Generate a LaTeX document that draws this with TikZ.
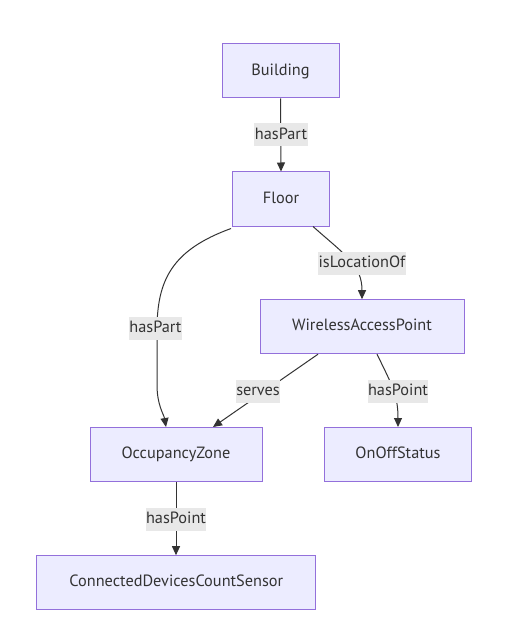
\documentclass[tikz,border=0pt]{standalone}
\usepackage{fontspec}
\setmainfont{PT Sans}
\usetikzlibrary{arrows.meta}
\definecolor{nodefill}{HTML}{ECECFF}
\definecolor{nodeborder}{HTML}{9370DB}
\definecolor{edgecol}{HTML}{333333}
\definecolor{labelbg}{HTML}{E8E8E8}
\begin{document}
\begin{tikzpicture}[x=1pt,y=-1pt,
  box/.style={draw=nodeborder, fill=nodefill, line width=1pt, minimum height=54pt, text=edgecol, font=\fontsize{16.3}{19}\selectfont, inner sep=0pt, text height=11.5pt, text depth=3pt},
  lbl/.style={fill=labelbg, text=edgecol, font=\fontsize{16.3}{19}\selectfont, inner xsep=0.5pt, inner ysep=0pt, minimum height=23pt, text height=11.5pt, text depth=3pt},
  edge/.style={draw=edgecol, line width=1pt, -{Triangle[length=9pt,width=8pt]}}]
\useasboundingbox[fill=white] (0,0) rectangle (530,639);
\node[box, minimum width=117pt] (building) at (280.5,71) {Building};
\node[box, minimum width=97pt] (floor) at (281,199) {Floor};
\node[box, minimum width=204pt] (wap) at (362,326.7) {WirelessAccessPoint};
\node[box, minimum width=172pt] (oz) at (176,454.5) {OccupancyZone};
\node[box, minimum width=147pt] (onoff) at (398,454.5) {OnOffStatus};
\node[box, minimum width=279pt] (cdcs) at (176.3,582.7) {ConnectedDevicesCountSensor};

\draw[edge] (building.south) -- (floor.north);
\draw[edge] ([xshift=-1pt,yshift=-2pt]floor.south west) .. controls (172,250) and (157,280) .. (157,330) -- (157,385) .. controls (157,405) and (164,415) .. ([xshift=-10pt]oz.north);
\draw[edge] ([xshift=-17pt]floor.south east) .. controls (345,255) and (362,265) .. (wap.north);
\draw[edge] ([xshift=-44pt]wap.south) -- ([xshift=37pt]oz.north);
\draw[edge] ([xshift=15pt]wap.south) .. controls (392,385) and (398,395) .. (onoff.north);
\draw[edge] (oz.south) -- (cdcs.north -| oz.south);

\node[lbl] (l1) at (281,135) {hasPart};
\node[lbl] (l2) at (155.5,328) {hasPart};
\node[lbl] (l3) at (362,263) {isLocationOf};
\node[lbl] (l4) at (258,391) {serves};
\node[lbl] (l5) at (398,391) {hasPoint};
\node[lbl] (l6) at (176,519) {hasPoint};
\end{tikzpicture}
\end{document}
